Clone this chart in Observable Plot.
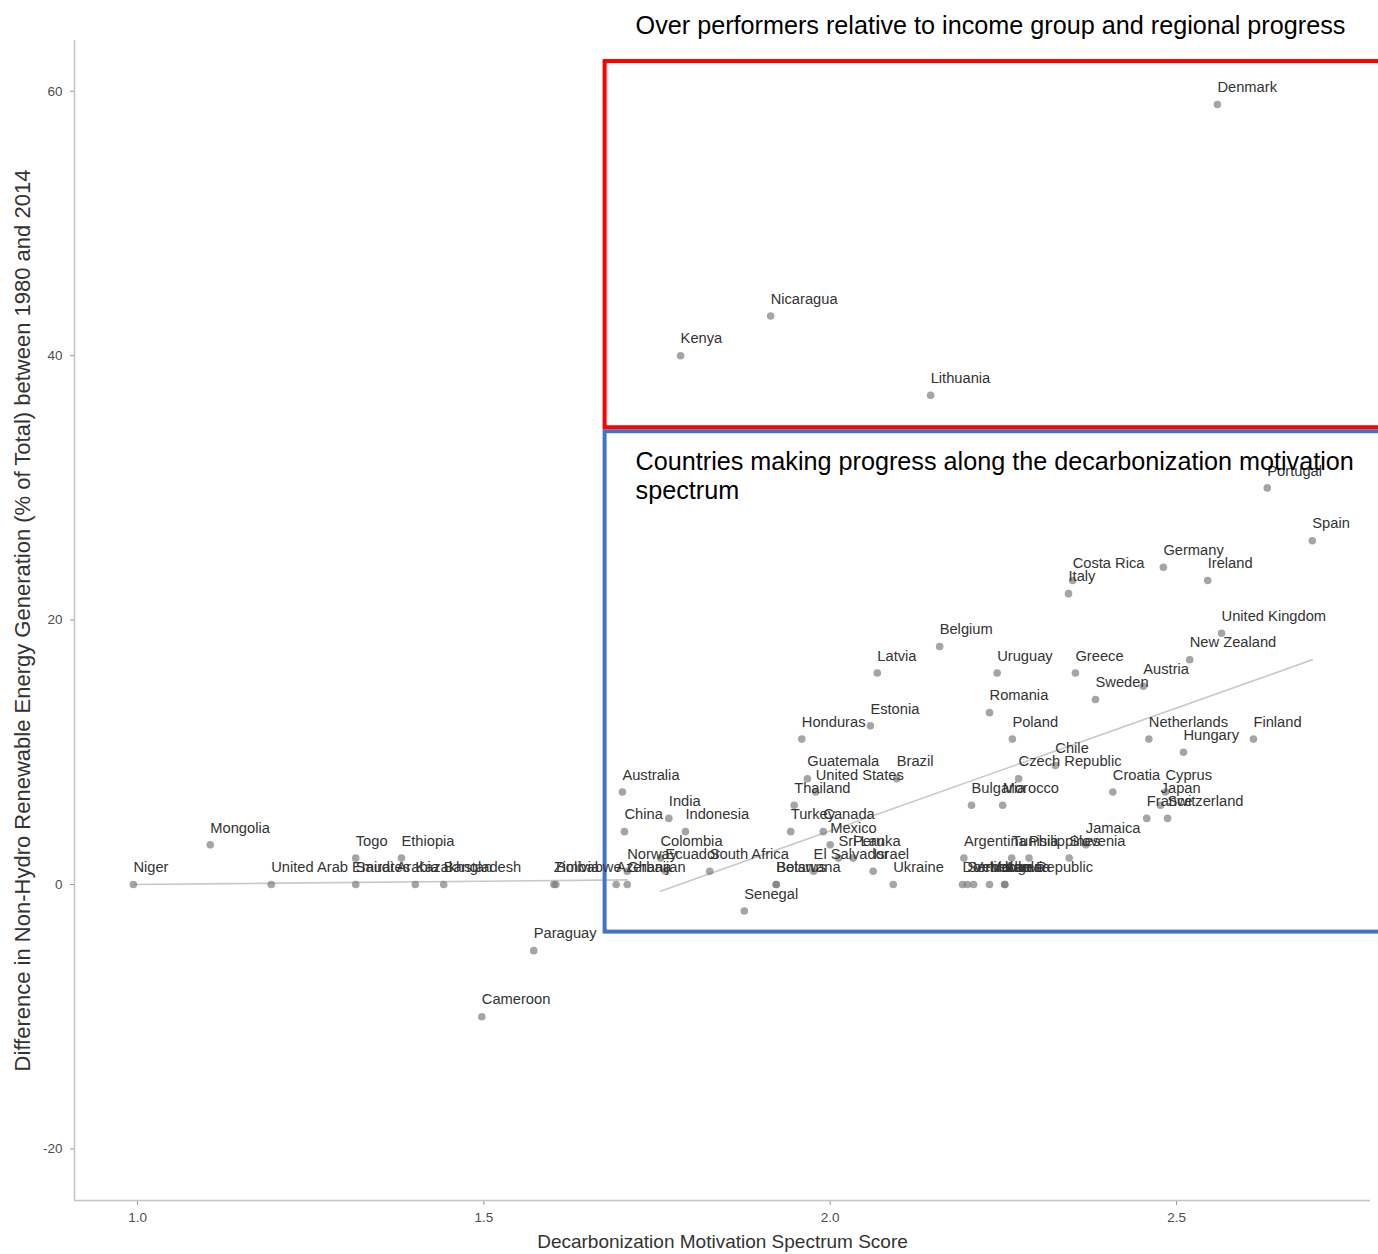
<!DOCTYPE html>
<html><head><meta charset="utf-8">
<script src="https://cdn.jsdelivr.net/npm/d3@7"></script>
<script src="https://cdn.jsdelivr.net/npm/@observablehq/plot@0.6"></script>
<style>
body{margin:0;background:#fff;overflow:hidden}
#chart svg{display:block}
</style>
</head><body><div id="chart"></div>
<script>
// ---- data ----
const countries = ["Niger","Mongolia","United Arab Emirates","Togo","Saudi Arabia","Ethiopia","Kazakhstan","Bangladesh","Paraguay","Cameroon","Zimbabwe","Bolivia","Azerbaijan","Ghana","Norway","Australia","China","Colombia","Ecuador","India","Indonesia","Kenya","South Africa","Senegal","Nicaragua","Belarus","Botswana","Turkey","Thailand","Honduras","Guatemala","United States","El Salvador","Canada","Mexico","Sri Lanka","Peru","Estonia","Israel","Latvia","Ukraine","Brazil","Lithuania","Belgium","Dominican Republic","Argentina","Serbia","Venezuela","Bulgaria","Romania","Moldova","Uruguay","Algeria","Iran","Morocco","Poland","Tunisia","Czech Republic","Philippines","Chile","Italy","Slovenia","Costa Rica","Greece","Jamaica","Sweden","Croatia","Austria","France","Netherlands","Japan","Germany","Cyprus","Switzerland","Hungary","New Zealand","Ireland","Denmark","United Kingdom","Finland","Portugal","Spain"];
const scores = [0.994,1.105,1.193,1.315,1.315,1.381,1.401,1.442,1.572,1.497,1.601,1.604,1.691,1.707,1.707,1.700,1.703,1.755,1.762,1.767,1.791,1.784,1.826,1.876,1.914,1.922,1.922,1.943,1.948,1.959,1.967,1.979,1.976,1.990,2.000,2.012,2.033,2.058,2.062,2.068,2.091,2.096,2.145,2.158,2.191,2.193,2.198,2.207,2.204,2.230,2.230,2.241,2.252,2.252,2.249,2.263,2.262,2.272,2.287,2.325,2.344,2.345,2.350,2.354,2.369,2.383,2.408,2.452,2.457,2.460,2.477,2.481,2.484,2.487,2.510,2.519,2.545,2.559,2.565,2.611,2.631,2.696];
const changes = [0,3,0,2,0,2,0,0,-5,-10,0,0,0,0,1,7,4,2,1,5,4,40,1,-2,43,0,0,4,6,11,8,7,1,4,3,2,2,12,1,16,0,8,37,18,0,2,0,0,6,13,0,16,0,0,6,11,2,8,2,9,22,2,23,16,3,14,7,15,5,11,6,24,7,5,10,17,23,59,19,11,30,26];

// fitted trend lines (two groups), endpoints
const fitGroup = ["low","low","high","high"];
const fitScore = [0.994,1.707,1.755,2.696];
const fitChange = [0,0.35,-0.5,17.0];

// highlighted regions
const boxNames = ["over","progress"];
const boxX1 = [1.675,1.675];
const boxX2 = [2.9,2.9];
const boxY1 = [34.55,-3.6];
const boxY2 = [62.25,34.25];
const boxColors = ["#ff0000","#4472c4"];

const noteTexts = ["Over performers relative to income group and regional progress","Countries making progress along the decarbonization motivation","spectrum"];
const noteX = [1.719,1.719,1.719];
const noteY = [64.98,32.0,29.8];

const xTicks = [1.0,1.5,2.0,2.5];
const yTicks = [-20,0,20,40,60];
const xTitle = "Decarbonization Motivation Spectrum Score";
const yTitle = "Difference in Non-Hydro Renewable Energy Generation (% of Total) between 1980 and 2014";

// ---- build ----
const data = countries.map((name,i)=>({name, x:scores[i], y:changes[i]}));
const fit = fitScore.map((x,i)=>({g:fitGroup[i], x, y:fitChange[i]}));
const boxes = boxNames.map((n,i)=>({n, x1:boxX1[i], x2:boxX2[i], y1:boxY1[i], y2:boxY2[i], c:boxColors[i]}));
const notes = noteTexts.map((t,i)=>({t, x:noteX[i], y:noteY[i]}));

const font = "'Liberation Sans', Arial, Helvetica, sans-serif";
const xDom = [0.909, 2.780], yDom = [-23.9, 63.84];

const chart = Plot.plot({
  width: 1378, height: 1254,
  marginLeft: 74, marginRight: 8, marginTop: 40, marginBottom: 54,
  style: {fontFamily: font, background: "#fff"},
  x: {domain: xDom},
  y: {domain: yDom},
  marks: [
    Plot.axisX({ticks: xTicks, tickFormat: d3.format(".1f"), tickSize: 5, tickPadding: 7, fontSize: 13.5, color: "#4d4d4d", stroke: "#9a9a9a", label: null}),
    Plot.axisY({ticks: yTicks, tickFormat: d => String(d), tickSize: 4, tickPadding: 8, fontSize: 13.5, color: "#4d4d4d", stroke: "#9a9a9a", label: null}),
    Plot.ruleX([xDom[0]], {stroke: "#c4c4c4", strokeWidth: 1.6}),
    Plot.ruleY([yDom[0]], {stroke: "#c4c4c4", strokeWidth: 1.6}),
    Plot.line(fit, {x: "x", y: "y", z: "g", stroke: "#c8c8c8", strokeWidth: 1.6}),
    Plot.rect(boxes, {x1: "x1", x2: "x2", y1: "y1", y2: "y2", stroke: d => d.c, fill: "none", strokeWidth: 4}),
    Plot.dot(data, {x: "x", y: "y", r: 3.8, fill: "#7a7a7a", fillOpacity: 0.68, stroke: "none"}),
    Plot.text(data, {x: "x", y: "y", text: "name", textAnchor: "start", dy: -17, fontSize: 14.7, fill: "#333"}),
    Plot.text(notes, {x: "x", y: "y", text: "t", textAnchor: "start", fontSize: 25.2, fill: "#000"}),
    Plot.text([xTitle], {text: d => d, frameAnchor: "bottom", dy: 47, fontSize: 19, fill: "#333"}),
    Plot.text([yTitle], {text: d => d, frameAnchor: "left", textAnchor: "middle", dx: -52, rotate: -90, fontSize: 22, fill: "#333"})
  ]
});
document.getElementById("chart").appendChild(chart);
</script>
</body></html>
